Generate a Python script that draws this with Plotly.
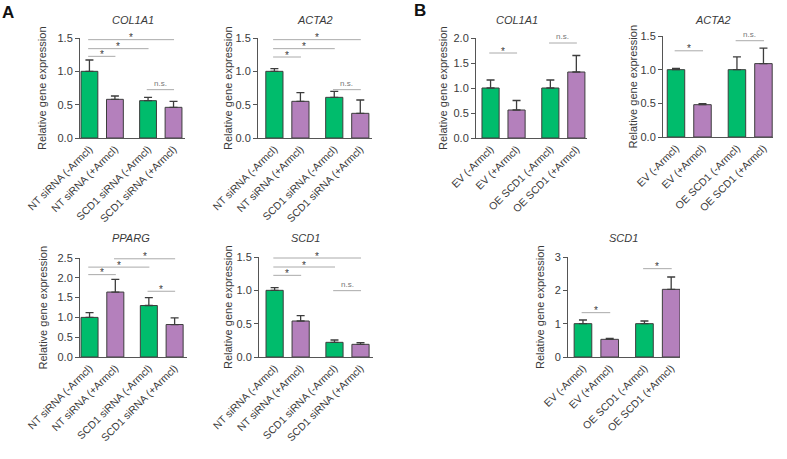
import plotly.graph_objects as go

W, H = 787, 459

# ---------------- data ----------------
labels_A = ["NT siRNA (-Armcl)", "NT siRNA (+Armcl)", "SCD1 siRNA (-Armcl)", "SCD1 siRNA (+Armcl)"]
labels_B = ["EV (-Armcl)", "EV (+Armcl)", "OE SCD1 (-Armcl)", "OE SCD1 (+Armcl)"]
bar_x = [0, 1, 2.3, 3.3]

a_col1a1 = [1.0, 0.58, 0.56, 0.46]
a_col1a1_err = [0.17, 0.05, 0.05, 0.09]
a_acta2 = [1.0, 0.55, 0.61, 0.37]
a_acta2_err = [0.04, 0.13, 0.09, 0.20]
a_pparg = [1.0, 1.64, 1.30, 0.82]
a_pparg_err = [0.12, 0.32, 0.20, 0.17]
a_scd1 = [1.0, 0.54, 0.22, 0.19]
a_scd1_err = [0.04, 0.08, 0.035, 0.025]

b_col1a1 = [1.0, 0.56, 1.0, 1.32]
b_col1a1_err = [0.16, 0.19, 0.16, 0.33]
b_acta2 = [1.0, 0.48, 1.0, 1.09]
b_acta2_err = [0.02, 0.015, 0.19, 0.23]
b_scd1 = [1.0, 0.53, 1.0, 2.03]
b_scd1_err = [0.11, 0.03, 0.08, 0.37]

# significance brackets: (from bar, to bar, height, label)
a_col1a1_sig = [(0, 3, 1.475, "*"), (0, 2, 1.34, "*"), (0, 1, 1.225, "*"), (2, 3, 0.725, "n.s.")]
a_acta2_sig = [(0, 3, 1.475, "*"), (0, 2, 1.34, "*"), (0, 1, 1.215, "*"), (2, 3, 0.725, "n.s.")]
a_pparg_sig = [(1, 3, 2.48, "*"), (0, 2, 2.27, "*"), (0, 1, 2.08, "*"), (2, 3, 1.66, "*")]
a_scd1_sig = [(0, 3, 1.485, "*"), (0, 2, 1.35, "*"), (0, 1, 1.225, "*"), (2, 3, 0.995, "n.s.")]
b_col1a1_sig = [(0, 1, 1.70, "*"), (2, 3, 1.90, "n.s.")]
b_acta2_sig = [(0, 1, 1.28, "*"), (2, 3, 1.43, "n.s.")]
b_scd1_sig = [(0, 1, 1.33, "*"), (2, 3, 2.65, "*")]

GREEN = "#00BC6C"
PURPLE = "#B480BC"
bar_colors = [GREEN, PURPLE, GREEN, PURPLE]
FONT = "Arial, Liberation Sans, sans-serif"
TXT = "#3a3a3a"

# panel layout: (title, labels, values, errs, sig, ymax, dtick, fmt,
#                px left, px right, px top, px bottom, xrange, title x, title y, ylabel x)
panels = [
    ("COL1A1", labels_A, a_col1a1, a_col1a1_err, a_col1a1_sig, 1.5, 0.5, ".1f",
     80, 185, 38, 138, [-0.37, 3.75], 133, 20, 42),
    ("ACTA2", labels_A, a_acta2, a_acta2_err, a_acta2_sig, 1.5, 0.5, ".1f",
     258, 372, 38, 138, [-0.63, 3.75], 315, 20, 228),
    ("COL1A1", labels_B, b_col1a1, b_col1a1_err, b_col1a1_sig, 2.0, 0.5, ".1f",
     476, 587, 38, 138, [-0.56, 3.71], 517, 20, 443),
    ("ACTA2", labels_B, b_acta2, b_acta2_err, b_acta2_sig, 1.5, 0.5, ".1f",
     663, 773, 36, 137, [-0.49, 3.66], 713, 20, 632),
    ("PPARG", labels_A, a_pparg, a_pparg_err, a_pparg_sig, 2.5, 0.5, ".1f",
     80, 187, 258, 357, [-0.37, 3.78], 131, 238, 42),
    ("SCD1", labels_A, a_scd1, a_scd1_err, a_scd1_sig, 1.5, 0.5, ".1f",
     259, 373, 257, 357, [-0.6, 3.78], 305, 238, 228),
    ("SCD1", labels_B, b_scd1, b_scd1_err, b_scd1_sig, 3.0, 1, "d",
     568, 680, 257, 357, [-0.56, 3.63], 623, 238, 540),
]

fig = go.Figure()
shapes = []
annotations = []

for i, (title, labs, vals, errs, sig, ymax, dtick, fmt,
        pl, pr, pt, pb, xr, tx, ty, ylx) in enumerate(panels):
    n = "" if i == 0 else str(i + 1)
    xa, ya = "x" + n, "y" + n
    fig.add_trace(go.Bar(
        x=bar_x, y=vals, width=0.66,
        marker=dict(color=bar_colors, line=dict(color="#3d3d3d", width=1)),
        error_y=dict(type="data", symmetric=False, array=errs,
                     arrayminus=[0] * len(errs), color="#3d3d3d",
                     thickness=1.3, width=4),
        xaxis=xa, yaxis=ya, showlegend=False, hoverinfo="skip",
    ))
    fig.layout["xaxis" + n] = dict(
        domain=[pl / W, pr / W], range=xr, anchor=ya, automargin=False,
        tickmode="array", tickvals=bar_x, ticktext=labs, tickangle=-45,
        ticks="", showline=True, linecolor="#555", linewidth=1,
        showgrid=False, zeroline=False,
        tickfont=dict(family=FONT, size=10.5, color=TXT), fixedrange=True,
    )
    fig.layout["yaxis" + n] = dict(
        domain=[1 - pb / H, 1 - pt / H], range=[0, ymax], anchor=xa, automargin=False,
        dtick=dtick, tick0=0, tickformat=fmt, ticks="outside", ticklen=4,
        tickcolor="#555", showline=True, linecolor="#555", linewidth=1,
        showgrid=False, zeroline=False,
        tickfont=dict(family=FONT, size=11, color=TXT), fixedrange=True,
    )
    for (a, b, h, lab) in sig:
        shapes.append(dict(type="line", xref=xa, yref=ya,
                           x0=bar_x[a] - 0.05, x1=bar_x[b] + 0.02, y0=h, y1=h,
                           line=dict(color="#aaaaaa", width=1)))
        mid = (bar_x[a] - 0.05 + bar_x[b] + 0.02) / 2
        if lab == "*":
            annotations.append(dict(x=mid, y=h, xref=xa, yref=ya, text="*",
                                    showarrow=False, yanchor="middle", yshift=2,
                                    font=dict(family=FONT, size=10, color=TXT)))
        else:
            annotations.append(dict(x=mid, y=h, xref=xa, yref=ya, text=lab,
                                    showarrow=False, yanchor="bottom", yshift=0,
                                    font=dict(family=FONT, size=8, color="#777")))
    annotations.append(dict(x=tx / W, y=1 - ty / H, xref="paper", yref="paper",
                            text="<i>" + title + "</i>", showarrow=False,
                            xanchor="center", yanchor="middle",
                            font=dict(family=FONT, size=11, color=TXT)))
    annotations.append(dict(x=ylx / W, y=1 - ((pt + pb) / 2) / H, xref="paper", yref="paper",
                            text="Relative gene expression", textangle=-90,
                            showarrow=False, xanchor="center", yanchor="middle",
                            font=dict(family=FONT, size=11, color=TXT)))

annotations.append(dict(x=8 / W, y=1 - 12 / H, xref="paper", yref="paper", text="<b>A</b>",
                        showarrow=False, xanchor="center", yanchor="middle",
                        font=dict(family=FONT, size=17, color="#111")))
annotations.append(dict(x=420 / W, y=1 - 11 / H, xref="paper", yref="paper", text="<b>B</b>",
                        showarrow=False, xanchor="center", yanchor="middle",
                        font=dict(family=FONT, size=17, color="#111")))

fig.update_layout(
    width=W, height=H, autosize=False,
    margin=dict(l=0, r=0, t=0, b=0, autoexpand=False),
    paper_bgcolor="white", plot_bgcolor="white",
    shapes=shapes, annotations=annotations,
    bargap=0,
)

fig.write_html("out.html", config={"displayModeBar": False, "staticPlot": True},
               post_script="document.body.style.margin='0';")
